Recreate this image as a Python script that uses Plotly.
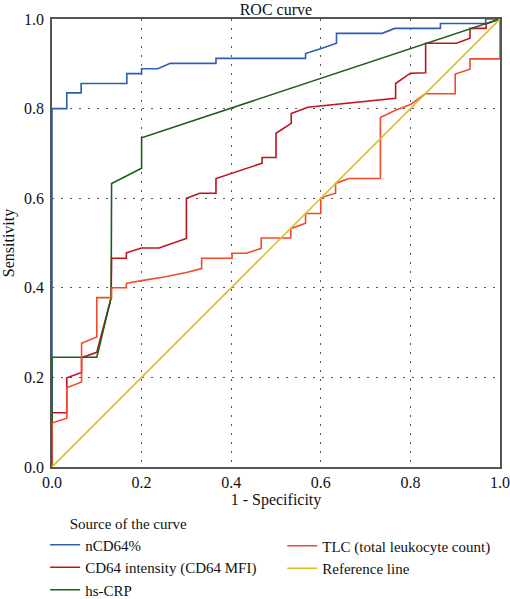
import plotly.graph_objects as go

# ---- data ----
ncd64_fpr = [0, 0, 0.033, 0.033, 0.065, 0.065, 0.167, 0.167, 0.2, 0.2, 0.236, 0.264, 0.366, 0.366,
             0.566, 0.566, 0.601, 0.635, 0.635, 0.737, 0.765, 0.867, 0.867, 0.968, 0.968, 1]
ncd64_tpr = [0, 0.8, 0.8, 0.835, 0.835, 0.856, 0.856, 0.878, 0.878, 0.889, 0.889, 0.901, 0.901, 0.912,
             0.912, 0.923, 0.934, 0.946, 0.968, 0.968, 0.979, 0.979, 0.99, 0.99, 1, 1]

mfi_fpr = [0, 0, 0.033, 0.033, 0.066, 0.066, 0.1, 0.132, 0.133, 0.166, 0.166, 0.2, 0.239, 0.3, 0.3,
           0.33, 0.366, 0.366, 0.469, 0.469, 0.5, 0.5, 0.534, 0.534, 0.571, 0.601, 0.767, 0.767, 0.8,
           0.834, 0.834, 0.903, 0.933, 0.933, 0.969, 0.969, 1]
mfi_tpr = [0, 0.121, 0.121, 0.199, 0.211, 0.244, 0.256, 0.378, 0.466, 0.466, 0.478, 0.489, 0.489, 0.51,
           0.6, 0.611, 0.611, 0.644, 0.678, 0.691, 0.691, 0.745, 0.767, 0.789, 0.803, 0.806, 0.823,
           0.856, 0.879, 0.88, 0.946, 0.946, 0.957, 0.979, 0.979, 0.989, 1]

crp_fpr = [0, 0, 0.1, 0.132, 0.133, 0.2, 0.2, 1]
crp_tpr = [0, 0.245, 0.245, 0.378, 0.633, 0.667, 0.735, 1]

tlc_fpr = [0, 0, 0.033, 0.033, 0.066, 0.066, 0.1, 0.1, 0.133, 0.133, 0.166, 0.166, 0.2, 0.25, 0.3,
           0.334, 0.334, 0.402, 0.402, 0.434, 0.467, 0.467, 0.533, 0.533, 0.566, 0.566, 0.6, 0.6,
           0.633, 0.633, 0.663, 0.733, 0.733, 0.768, 0.8, 0.833, 0.9, 0.9, 0.933, 0.933, 1, 1]
tlc_tpr = [0, 0.098, 0.109, 0.177, 0.19, 0.276, 0.29, 0.378, 0.378, 0.4, 0.4, 0.41, 0.416, 0.424, 0.434,
           0.443, 0.466, 0.466, 0.477, 0.477, 0.488, 0.511, 0.511, 0.532, 0.544, 0.566, 0.566, 0.601,
           0.611, 0.633, 0.644, 0.644, 0.78, 0.797, 0.809, 0.833, 0.833, 0.877, 0.888, 0.911, 0.911, 1]

ref_x = [0, 1]
ref_y = [0, 1]

tick_vals = [0, 0.2, 0.4, 0.6, 0.8, 1.0]
tick_text = ["0.0", "0.2", "0.4", "0.6", "0.8", "1.0"]

names = {
    "ncd64": "nCD64%",
    "mfi": "CD64 intensity (CD64 MFI)",
    "crp": "hs-CRP",
    "tlc": "TLC (total leukocyte count)",
    "ref": "Reference line",
}
colors = {
    "ncd64": "#2f5db0",
    "mfi": "#c0141c",
    "crp": "#1d5c1d",
    "tlc": "#f4492c",
    "ref": "#d6c322",
}

FONT = "Liberation Serif"
TXT = "#111111"

fig = go.Figure()
# (key, x, y, legend column)
series = [
    ("ncd64", ncd64_fpr, ncd64_tpr, "legend"),
    ("mfi", mfi_fpr, mfi_tpr, "legend"),
    ("crp", crp_fpr, crp_tpr, "legend"),
    ("tlc", tlc_fpr, tlc_tpr, "legend2"),
    ("ref", ref_x, ref_y, "legend2"),
]
for key, xs, ys, lg in series:
    fig.add_trace(go.Scatter(x=xs, y=ys, mode="lines", name=names[key], legend=lg,
                             line=dict(color=colors[key], width=1.6)))

axis_common = dict(
    range=[0, 1], tickvals=tick_vals, ticktext=tick_text,
    showgrid=True, gridcolor="#555555", gridwidth=1.4, griddash="2px,7px",
    zeroline=False, showline=True, linecolor="#555555", linewidth=1.6, mirror=True,
    ticks="", tickfont=dict(family=FONT, size=16, color=TXT),
    fixedrange=True, automargin=False,
)

fig.update_xaxes(**axis_common, title=dict(text="1 - Specificity", standoff=9,
                                           font=dict(family=FONT, size=16, color=TXT)))
fig.update_yaxes(**axis_common, ticklabelstandoff=3,
                 title=dict(text="Sensitivity", font=dict(family=FONT, size=16, color=TXT)))

legend_common = dict(
    orientation="v", xanchor="left", yref="container", yanchor="top",
    font=dict(family=FONT, size=15, color=TXT),
    itemwidth=30, tracegroupgap=0, bgcolor="rgba(0,0,0,0)",
)

fig.update_layout(
    width=510, height=599,
    margin=dict(l=52, r=10, t=19, b=132),
    paper_bgcolor="white", plot_bgcolor="white",
    title=dict(text="ROC curve", x=0.541, xanchor="center", y=1 - 9 / 599, yanchor="middle",
               font=dict(family=FONT, size=16, color=TXT)),
    font=dict(family=FONT, size=16, color=TXT),
    showlegend=True,
    legend=dict(
        **legend_common, x=-0.0153, y=1 - 509 / 599,
        title=dict(text="\u00a0\u00a0\u00a0\u00a0\u00a0\u00a0Source of the curve", side="top",
                   font=dict(family=FONT, size=15, color=TXT)),
    ),
    legend2=dict(**legend_common, x=0.514, y=1 - 529.5 / 599),
)

fig.write_html("out.html", config={"displayModeBar": False},
               post_script="document.body.style.margin='0px';")
